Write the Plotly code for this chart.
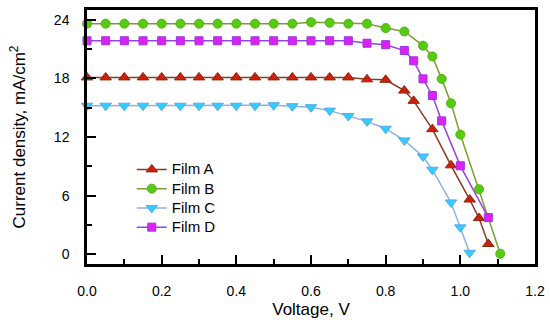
import plotly.graph_objects as go

# Film A
v_a = [0.0, 0.05, 0.1, 0.15, 0.2, 0.25, 0.3, 0.35, 0.4, 0.45, 0.5, 0.55, 0.6, 0.65, 0.7,
       0.75, 0.8, 0.85, 0.875, 0.925, 0.975, 1.025, 1.05, 1.075]
j_a = [18.1, 18.1, 18.1, 18.1, 18.1, 18.1, 18.1, 18.1, 18.1, 18.1, 18.1, 18.1, 18.1, 18.1, 18.1,
       17.9, 17.85, 16.75, 15.7, 12.8, 9.1, 5.6, 3.7, 1.05]

# Film B
v_b = [0.0, 0.05, 0.1, 0.15, 0.2, 0.25, 0.3, 0.35, 0.4, 0.45, 0.5, 0.55, 0.6, 0.65, 0.7,
       0.75, 0.8, 0.85, 0.9, 0.925, 0.95, 0.975, 1.0, 1.05, 1.107]
j_b = [23.6, 23.6, 23.6, 23.6, 23.6, 23.6, 23.6, 23.6, 23.6, 23.6, 23.6, 23.6, 23.75, 23.7, 23.6,
       23.6, 23.15, 22.8, 21.35, 20.25, 17.95, 15.45, 12.25, 6.65, 0.05]

# Film C
v_c = [0.0, 0.05, 0.1, 0.15, 0.2, 0.25, 0.3, 0.35, 0.4, 0.45, 0.5, 0.55, 0.6, 0.65, 0.7,
       0.75, 0.8, 0.85, 0.9, 0.925, 0.975, 1.0, 1.025]
j_c = [15.2, 15.2, 15.2, 15.2, 15.2, 15.2, 15.2, 15.2, 15.2, 15.2, 15.25, 15.15, 15.05, 14.7, 14.15,
       13.6, 12.85, 11.65, 10.0, 8.65, 5.3, 2.75, 0.15]

# Film D
v_d = [0.0, 0.05, 0.1, 0.15, 0.2, 0.25, 0.3, 0.35, 0.4, 0.45, 0.5, 0.55, 0.6, 0.65, 0.7,
       0.75, 0.8, 0.85, 0.875, 0.9, 0.925, 0.95, 1.0, 1.075]
j_d = [21.85, 21.85, 21.85, 21.85, 21.85, 21.85, 21.85, 21.85, 21.85, 21.85, 21.85, 21.85, 21.85, 21.85, 21.85,
       21.6, 21.45, 20.85, 19.8, 17.95, 16.25, 13.65, 9.05, 3.75]

names = ["Film A", "Film B", "Film C", "Film D"]
x_ticks = [0.0, 0.2, 0.4, 0.6, 0.8, 1.0, 1.2]
x_tick_labels = ["0.0", "0.2", "0.4", "0.6", "0.8", "1.0", "1.2"]
y_ticks = [0, 6, 12, 18, 24]
y_tick_labels = ["0", "6", "12", "18", "24"]

styles = [
    dict(line_color="#8b3a1e", fill="#cc1f0c", edge="#8b2a0c", symbol="triangle-up", size=10),
    dict(line_color="#78a030", fill="#55cc11", edge="#55b010", symbol="circle", size=9),
    dict(line_color="#8fb0e0", fill="#33ccff", edge="#55aaee", symbol="triangle-down", size=10),
    dict(line_color="#9944dd", fill="#dd22ee", edge="#9933ee", symbol="square", size=8),
]

fig = go.Figure()
for name, xs, ys, st in zip(names, [v_a, v_b, v_c, v_d], [j_a, j_b, j_c, j_d], styles):
    fig.add_trace(go.Scatter(
        x=xs, y=ys, name='<span style="font-size:15px">' + name + '</span>',
        mode="lines+markers",
        line=dict(color=st["line_color"], width=1.5),
        marker=dict(symbol=st["symbol"], size=st["size"], color=st["fill"],
                    line=dict(color=st["edge"], width=1)),
        cliponaxis=False,
    ))

font_family = "Liberation Sans, Arial, sans-serif"
fig.update_layout(
    width=550, height=324,
    margin=dict(l=87, r=15, t=10, b=60, pad=0),
    paper_bgcolor="white", plot_bgcolor="white",
    font=dict(family=font_family, color="black", size=14),
    showlegend=True,
    legend=dict(x=0.1, y=0.43, xanchor="left", yanchor="top",
                bgcolor="rgba(255,255,255,0)", font=dict(size=12.5),
                tracegroupgap=0, itemsizing="trace"),
)
fig.update_xaxes(
    automargin=False,
    range=[0, 1.2], tickmode="array", tickvals=x_ticks, ticktext=x_tick_labels,
    ticks="inside", ticklen=9, tickwidth=2, tickcolor="black",
    minor=dict(ticks="inside", dtick=0.1, ticklen=5, tickwidth=2, tickcolor="black", showgrid=False),
    showline=True, linewidth=2.5, linecolor="black", mirror=True,
    showgrid=False, zeroline=False, ticklabelstandoff=12,
    tickfont=dict(size=14),
    title=dict(text="Voltage, V", font=dict(size=17), standoff=6),
)
fig.update_yaxes(
    automargin=False,
    range=[-1, 25], tickmode="array", tickvals=y_ticks, ticktext=y_tick_labels,
    ticks="inside", ticklen=9, tickwidth=2, tickcolor="black",
    minor=dict(ticks="inside", dtick=3, tick0=0, ticklen=5, tickwidth=2, tickcolor="black", showgrid=False),
    showline=True, linewidth=2.5, linecolor="black", mirror=True,
    showgrid=False, zeroline=False, ticklabelstandoff=12,
    tickfont=dict(size=14),
    title=dict(text="Current density, mA/cm<sup>2</sup>", font=dict(size=17), standoff=24),
)

fig.write_html(
    "out.html", config={"displayModeBar": False},
    post_script=("document.body.style.margin='0';"
                 "document.body.style.overflow='hidden';"
                 "document.documentElement.style.overflow='hidden';"),
)
